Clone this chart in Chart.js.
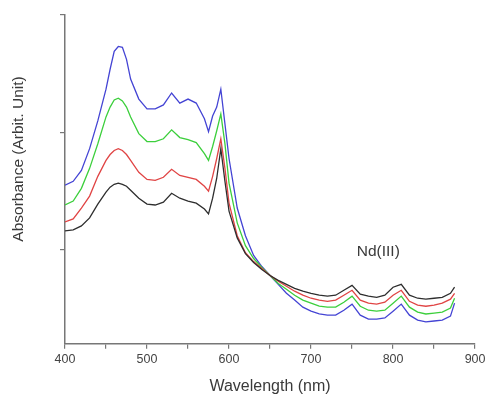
<!DOCTYPE html>
<html>
<head>
<meta charset="utf-8">
<script src="https://cdn.jsdelivr.net/npm/chart.js@4.4.1/dist/chart.umd.min.js"></script>
<style>
  html, body { margin: 0; padding: 0; background: #fff; }
</style>
</head>
<body>
<canvas id="spectra" width="489" height="396"></canvas>
<script>
const wavelengths = [400, 410, 420, 430, 440, 450, 455, 460, 465, 470, 475, 480, 490, 500, 510, 520, 530, 540, 550, 560,
  570, 575, 580, 585, 590, 595, 600, 610, 620, 630, 640, 650, 660, 670, 680, 690, 700, 710, 720, 730,
  740, 750, 760, 770, 780, 790, 800, 810, 820, 830, 840, 850, 860, 870, 875];

const absBlue = [0.775, 0.792, 0.838, 0.931, 1.049, 1.184, 1.269, 1.345, 1.366, 1.362, 1.311, 1.227, 1.142, 1.100, 1.100, 1.117, 1.168, 1.125, 1.142, 1.125,
  1.058, 1.003, 1.070, 1.108, 1.184, 1.037, 0.889, 0.678, 0.560, 0.476, 0.429, 0.391, 0.353, 0.315, 0.286, 0.256, 0.239, 0.227, 0.222, 0.222,
  0.243, 0.269, 0.222, 0.205, 0.205, 0.210, 0.239, 0.269, 0.222, 0.201, 0.193, 0.197, 0.201, 0.218, 0.273];

const absGreen = [0.691, 0.708, 0.762, 0.847, 0.952, 1.066, 1.108, 1.138, 1.146, 1.134, 1.108, 1.066, 0.995, 0.961, 0.961, 0.973, 1.011, 0.978, 0.969, 0.957,
  0.910, 0.881, 0.940, 1.007, 1.079, 0.952, 0.784, 0.615, 0.518, 0.463, 0.425, 0.391, 0.357, 0.332, 0.307, 0.286, 0.273, 0.260, 0.256, 0.256,
  0.277, 0.303, 0.260, 0.243, 0.239, 0.243, 0.273, 0.303, 0.256, 0.235, 0.227, 0.231, 0.235, 0.252, 0.294];

const absRed = [0.619, 0.632, 0.678, 0.729, 0.813, 0.881, 0.906, 0.923, 0.931, 0.923, 0.906, 0.881, 0.830, 0.800, 0.796, 0.809, 0.843, 0.817, 0.809, 0.800,
  0.771, 0.750, 0.813, 0.889, 0.973, 0.847, 0.699, 0.560, 0.488, 0.450, 0.421, 0.391, 0.366, 0.345, 0.324, 0.307, 0.294, 0.286, 0.281, 0.286,
  0.307, 0.328, 0.286, 0.273, 0.269, 0.277, 0.307, 0.328, 0.281, 0.265, 0.260, 0.265, 0.273, 0.290, 0.315];

const absBlack = [0.581, 0.585, 0.602, 0.636, 0.695, 0.746, 0.767, 0.779, 0.784, 0.779, 0.771, 0.754, 0.720, 0.695, 0.691, 0.703, 0.741, 0.720, 0.708, 0.699,
  0.674, 0.653, 0.720, 0.805, 0.931, 0.792, 0.665, 0.551, 0.484, 0.446, 0.416, 0.391, 0.370, 0.353, 0.336, 0.324, 0.315, 0.307, 0.303, 0.307,
  0.328, 0.349, 0.311, 0.303, 0.298, 0.307, 0.341, 0.353, 0.307, 0.294, 0.290, 0.294, 0.298, 0.315, 0.341];

const yTicks = [0.5, 1.0, 1.5];
const xLabelEvery = 100;

const FONT = '"Liberation Sans", Arial, sans-serif';

const toPoints = (vals) => wavelengths.map((w, i) => ({ x: w, y: vals[i] }));

function series(vals, color) {
  return {
    data: toPoints(vals),
    borderColor: color,
    backgroundColor: color,
    borderWidth: 1.3,
    pointRadius: 0,
    tension: 0
  };
}

// y title (drawn by hand so it can sit where the original has it) and the Nd(III) note
const extraText = {
  id: 'extraText',
  afterDatasetsDraw(chart) {
    const { ctx, scales } = chart;
    ctx.save();
    ctx.font = '15.5px ' + FONT;
    ctx.fillStyle = '#3a3a3a';
    ctx.textAlign = 'center';
    ctx.textBaseline = 'middle';
    ctx.fillText('Nd(III)', scales.x.getPixelForValue(782), scales.y.getPixelForValue(0.492));
    ctx.translate(19, 159);
    ctx.rotate(-Math.PI / 2);
    ctx.fillText('Absorbance (Arbit. Unit)', 0, 0);
    ctx.restore();
  }
};

const ctx = document.getElementById('spectra').getContext('2d');

new Chart(ctx, {
  type: 'line',
  data: {
    datasets: [
      series(absBlack, '#2e2e2e'),
      series(absRed, '#e04444'),
      series(absGreen, '#3ccf3c'),
      series(absBlue, '#4444d4')
    ]
  },
  options: {
    responsive: false,
    animation: false,
    layout: { padding: { top: 15, right: 13, left: 60, bottom: 0 } },
    plugins: {
      legend: { display: false },
      tooltip: { enabled: false }
    },
    scales: {
      x: {
        type: 'linear',
        min: 400,
        max: 900,
        ticks: {
          stepSize: 50,
          color: '#444',
          padding: 3.5,
          maxRotation: 0,
          font: { family: FONT, size: 12.5 },
          callback: (v) => (v % xLabelEvery === 0 ? v : '')
        },
        grid: { drawOnChartArea: false, drawTicks: true, tickLength: 5, color: '#777', lineWidth: 1.2 },
        border: { display: true, color: '#777', width: 1.5 },
        title: {
          display: true,
          text: 'Wavelength (nm)',
          color: '#3a3a3a',
          font: { family: FONT, size: 16 },
          padding: { top: 6, bottom: 0 }
        }
      },
      y: {
        type: 'linear',
        min: 0.1,
        max: 1.5,
        afterBuildTicks: (axis) => { axis.ticks = yTicks.map(v => ({ value: v })); },
        ticks: { display: false },
        grid: { drawOnChartArea: false, drawTicks: true, tickLength: 5, color: '#777', lineWidth: 1.2 },
        border: { display: true, color: '#777', width: 1.5 }
      }
    }
  },
  plugins: [extraText]
});
</script>
</body>
</html>
